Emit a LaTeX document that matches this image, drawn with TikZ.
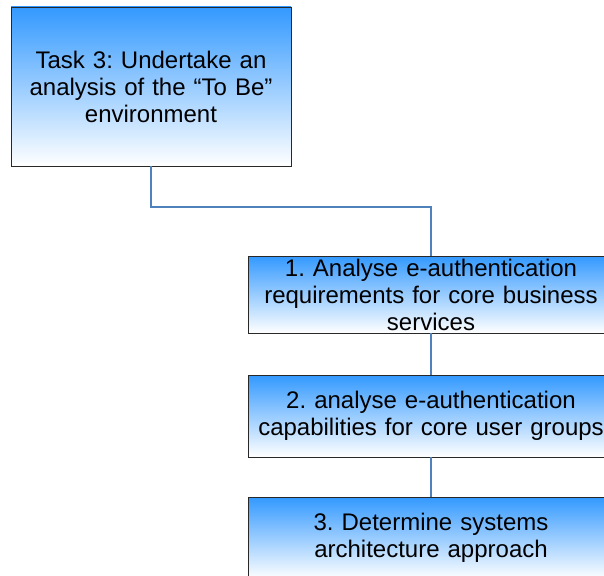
\documentclass[tikz,border=0pt]{standalone}
\usepackage{fontspec}
\setmainfont{Liberation Sans}
\frenchspacing
\definecolor{topblue}{RGB}{51,153,255}
\definecolor{connblue}{RGB}{79,129,189}
\definecolor{edge}{RGB}{40,40,40}
\tikzset{
  box/.style={draw=edge, line width=0.9pt, top color=topblue, bottom color=white,
    inner sep=0pt, align=center, font=\fontsize{24}{27}\selectfont},
  conn/.style={draw=connblue, line width=2pt}
}
\begin{document}
\begin{tikzpicture}[x=1pt,y=-1pt]
\useasboundingbox (0,0) rectangle (604,575);
\clip (0,0) rectangle (604,575);
\node[box, minimum width=280pt, minimum height=159pt, text width=276pt] (task) at (151,86.5)
  {Task 3: Undertake an\\analysis of the “To Be”\\environment};
\node[box, minimum width=366pt, minimum height=77pt, text width=362pt] (b1) at (431,294.5)
  {1. Analyse e-authentication\\requirements for core business\\services};
\node[box, minimum width=366pt, minimum height=82pt, text width=362pt] (b2) at (431,416)
  {2. analyse e-authentication\\capabilities for core user groups};
\node[box, minimum width=366pt, minimum height=82pt, text width=362pt] (b3) at (431,538)
  {3. Determine systems\\architecture approach};
\draw[conn] (task.south) -- ++(0,41) -| (b1.north);
\draw[conn] (b1.south) -- (b2.north);
\draw[conn] (b2.south) -- (b3.north);
\end{tikzpicture}
\end{document}
